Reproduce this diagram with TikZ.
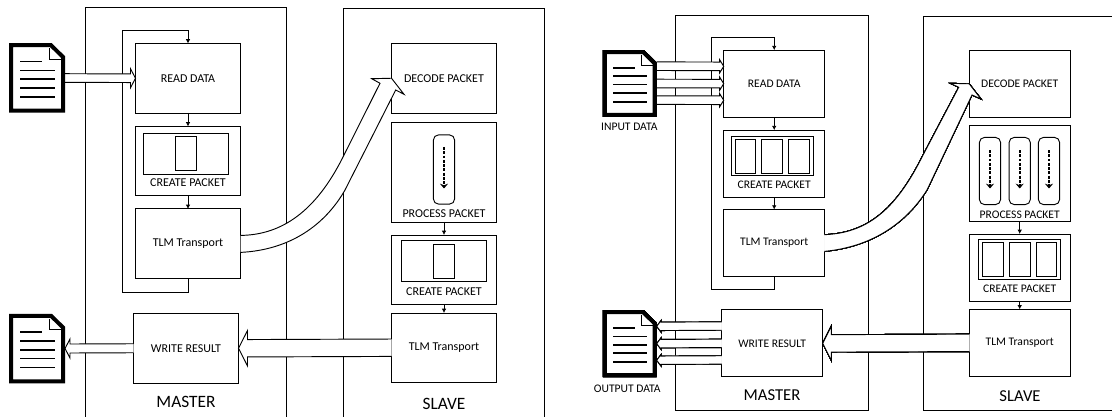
\documentclass[tikz,border=0pt]{standalone}
\usepackage{fontspec}
\setmainfont{Carlito}
\usetikzlibrary{arrows.meta,positioning,calc}

\tikzset{
  lblock/.style={draw, fill=white, inner sep=0pt, outer sep=0pt, line width=0.7pt, minimum width=78.75pt, minimum height=52.1pt, font=\fontsize{9}{10}\selectfont},
  rblock/.style={draw, fill=white, inner sep=0pt, outer sep=0pt, line width=0.7pt, minimum width=75.75pt, minimum height=50.25pt, font=\fontsize{8.7}{10}\selectfont},
  slot/.style={draw, inner sep=0pt, outer sep=0pt, line width=0.7pt, minimum width=15.75pt, minimum height=26pt},
  frame/.style={draw, inner sep=0pt, outer sep=0pt, line width=0.7pt},
  lane/.style={draw, inner sep=0pt, outer sep=0pt, line width=0.7pt, rounded corners=4pt, minimum width=16pt, minimum height=52pt},
  panel/.style={line width=0.7pt},
  flow/.style={line width=0.6pt, -{Latex[length=3.2pt,width=3.4pt]}},
  walk/.style={line width=1.2pt, dash pattern=on 2.2pt off 1pt, -{Stealth[length=3.6pt,width=6pt]}},
  hollow/.style={draw, fill=white, line width=0.7pt},
  doccorner/.style={draw=none, inner sep=0pt, outer sep=0pt}
}

% straight hollow arrow: from, to, dy, half shaft, half head, head length (signed)
\newcommand{\hollowarrow}[6]{
  \draw[hollow] ($(#1)+(0,#3-#4)$) -- ($(#2)+(#6,#3-#4)$) -- ($(#2)+(#6,#3-#5)$) -- ($(#2)+(0,#3)$) -- ($(#2)+(#6,#3+#5)$) -- ($(#2)+(#6,#3+#4)$) -- ($(#1)+(0,#3+#4)$);
}
% file icon round a named node
\newcommand{\docicon}[2]{
  \begin{scope}[shift={(#1.center)}, scale=#2]
    \draw[line width=3pt, fill=white, miter limit=2] (-26,-32.75) -- (14,-32.75) -- (26,-21) -- (26,32.75) -- (-26,32.75) -- cycle;
    \draw[line width=0.8pt] (12.3,-30) -- (12.3,-18.7) -- (24.7,-18.7);
    \draw[line width=1.2pt] (-17,-16.3) -- (5,-16.3);
    \foreach \ly in {-7.5,1.2,10,19} \draw[line width=1.2pt] (-17,\ly) -- (18,\ly);
  \end{scope}
}

\begin{document}
\begin{tikzpicture}[x=0.75pt, y=-0.75pt]
\useasboundingbox (0,0) rectangle (1112,417);

% left picture
\draw[panel] (85.5,417) -- (85.5,7.5) -- (286.5,7.5) -- (286.5,417);
\draw[panel] (343.5,417) -- (343.5,8.5) -- (544.5,8.5) -- (544.5,417);

\node[lblock] (lread) at (188,78.25) {READ DATA};
\node[lblock, below=10.1pt of lread] (lcreate) {};
\node[lblock, below=9.75pt of lcreate] (ltlm) {TLM Transport};
\node[lblock] (lwrite) at (186,348.25) {WRITE RESULT};
\node[frame, minimum width=63.75pt, minimum height=30.4pt] (lcreatein) at (186,153.75) {};
\node[slot] (lcreateslot) at (186,153.5) {};
\node[font=\fontsize{9}{10}\selectfont] (lcreatetxt) at (188,183) {CREATE PACKET};
\node[font=\fontsize{13}{14}\selectfont] (lmaster) at (186,402) {MASTER};

\node[lblock] (ldecode) at (444,78.25) {DECODE PACKET};
\node[lblock, minimum height=75pt, below=6.75pt of ldecode] (lprocess) {};
\node[lblock, below=9.75pt of lprocess] (lscreate) {};
\node[lblock, below=6.4pt of lscreate] (lstlm) {TLM Transport};
\node[lane] (llane) at (444,169.5) {};
\coordinate (llanea) at (444,147);
\coordinate (llaneb) at (444,188.5);
\draw[walk] (llanea) -- (llaneb);
\node[font=\fontsize{9}{10}\selectfont] (lprocesstxt) at (444,214) {PROCESS PACKET};
\node[frame, minimum width=63.75pt, minimum height=30.4pt] (lscreatein) at (444,260.75) {};
\node[slot] (lscreateslot) at (444,261.5) {};
\node[font=\fontsize{9}{10}\selectfont] (lscreatetxt) at (444,291.5) {CREATE PACKET};
\node[font=\fontsize{13}{14}\selectfont] (lslave) at (444,403.5) {SLAVE};

\coordinate (lloopb) at (122.5,292.5);
\coordinate (lloopt) at (122.5,30.5);
\draw[flow] (lread) -- (lcreate);
\draw[flow] (lcreate) -- (ltlm);
\draw[flow] (ltlm.south) |- (lloopb) -- (lloopt) -| (lread.north);
\draw[flow] (lprocess) -- (lscreate);
\draw[flow] (lscreate) -- (lstlm);

\node[doccorner, minimum width=42pt, minimum height=52.5pt] (lin) at (37,78) {};
\node[doccorner, minimum width=42pt, minimum height=52.5pt] (lout) at (37,348.5) {};
\hollowarrow{lin.east}{lread.west}{0}{4.3}{9.5}{-5}
\hollowarrow{lwrite.west}{lout.east}{0}{4.5}{9.5}{5}
\hollowarrow{lstlm.west}{lwrite.east}{0}{8.7}{17.7}{9}
\docicon{lin}{1}
\docicon{lout}{1}
\draw[hollow] ($(ltlm.east)+(0,-8.25)$) .. controls (282,235) and (316,211) .. (343,157) -- (380,83.3) -- (371.7,78.7) -- (ldecode.west) -- (404,94.3) -- (395.7,90) -- (345,190) .. controls (325,225) and (290,250) .. ($(ltlm.east)+(0,8.75)$);

% right picture
\draw[panel] (675.7,15.7) rectangle (868.7,410.3);
\draw[panel] (1112,16.3) -- (923,16.3) -- (923,410.7) -- (1112,410.7);

\node[rblock] (rread) at (774.2,83.65) {READ DATA};
\node[rblock, below=9.75pt of rread] (rcreate) {};
\node[rblock, below=9.3pt of rcreate] (rtlm) {TLM Transport};
\node[rblock] (rwrite) at (772.2,343.35) {WRITE RESULT};
\node[frame, minimum width=61.25pt, minimum height=29.8pt] (rcreatein) at (772.2,155.85) {};
\foreach \sx/\sn in {745.5/a,772/b,798.7/c}
  \node[slot, minimum width=15.4pt] (rcreate\sn) at (\sx,156.35) {};
\node[font=\fontsize{8.7}{10}\selectfont] (rcreatetxt) at (774.2,184.3) {CREATE PACKET};
\node[font=\fontsize{12.5}{14}\selectfont] (rmaster) at (772,394.7) {MASTER};

\node[rblock] (rdecode) at (1019.7,83.8) {DECODE PACKET};
\node[rblock, minimum height=72pt, below=6.3pt of rdecode] (rprocess) {};
\node[rblock, below=9.2pt of rprocess] (rscreate) {};
\node[rblock, below=6.3pt of rscreate] (rstlm) {TLM Transport};
\foreach \sx/\sn in {990/a,1019.7/b,1049/c} {
  \node[lane, minimum height=50.5pt] (rlane\sn) at (\sx,171) {};
  \coordinate (rlane\sn t) at (\sx,150);
  \coordinate (rlane\sn b) at (\sx,188.5);
  \draw[walk] (rlane\sn t) -- (rlane\sn b);
}
\node[font=\fontsize{8.7}{10}\selectfont] (rprocesstxt) at (1019.7,214.3) {PROCESS PACKET};
\node[frame, minimum width=61.5pt, minimum height=30pt] (rscreatein) at (1019.7,259.3) {};
\foreach \sx/\sn in {992.8/a,1019.7/b,1046.5/c}
  \node[slot, minimum width=15.4pt] (rscreate\sn) at (\sx,259.35) {};
\node[font=\fontsize{8.7}{10}\selectfont] (rscreatetxt) at (1019.7,288.3) {CREATE PACKET};
\node[font=\fontsize{12.5}{14}\selectfont] (rslave) at (1020,395.7) {SLAVE};

\coordinate (rloopb) at (711.3,289);
\coordinate (rloopt) at (711.3,37.3);
\draw[flow] (rread) -- (rcreate);
\draw[flow] (rcreate) -- (rtlm);
\draw[flow] (rtlm.south) |- (rloopb) -- (rloopt) -| (rread.north);
\draw[flow] (rprocess) -- (rscreate);
\draw[flow] (rscreate) -- (rstlm);

\node[doccorner, minimum width=40.5pt, minimum height=50pt] (rin) at (629.7,83.5) {};
\node[doccorner, minimum width=40.5pt, minimum height=50pt] (rout) at (629.7,343.65) {};
\node[font=\fontsize{8.7}{10}\selectfont] (rintxt) at (629.3,126.7) {INPUT DATA};
\node[font=\fontsize{8.7}{10}\selectfont] (routtxt) at (627.3,388.7) {OUTPUT DATA};
\foreach \dy in {16.6,0,-17.3}
  \hollowarrow{rin.east}{rread.west}{\dy}{4.3}{6.5}{-4}
\foreach \dy in {16.6,0,-17.3}
  \hollowarrow{rwrite.west}{rout.east}{\dy}{4.2}{6}{4.5}
\hollowarrow{rstlm.west}{rwrite.east}{0}{8.7}{17.2}{8.6}
\docicon{rin}{0.96}
\docicon{rout}{0.96}
\draw[hollow] ($(rtlm.east)+(0,-8.4)$) .. controls (866,233) and (895,211) .. (922,157) -- (958.7,87.3) -- (950.3,83.3) -- (rdecode.west) -- (981,99) -- (972,95) -- (927,190) .. controls (905,225) and (870,247) .. ($(rtlm.east)+(0,8.3)$);
\end{tikzpicture}
\end{document}
